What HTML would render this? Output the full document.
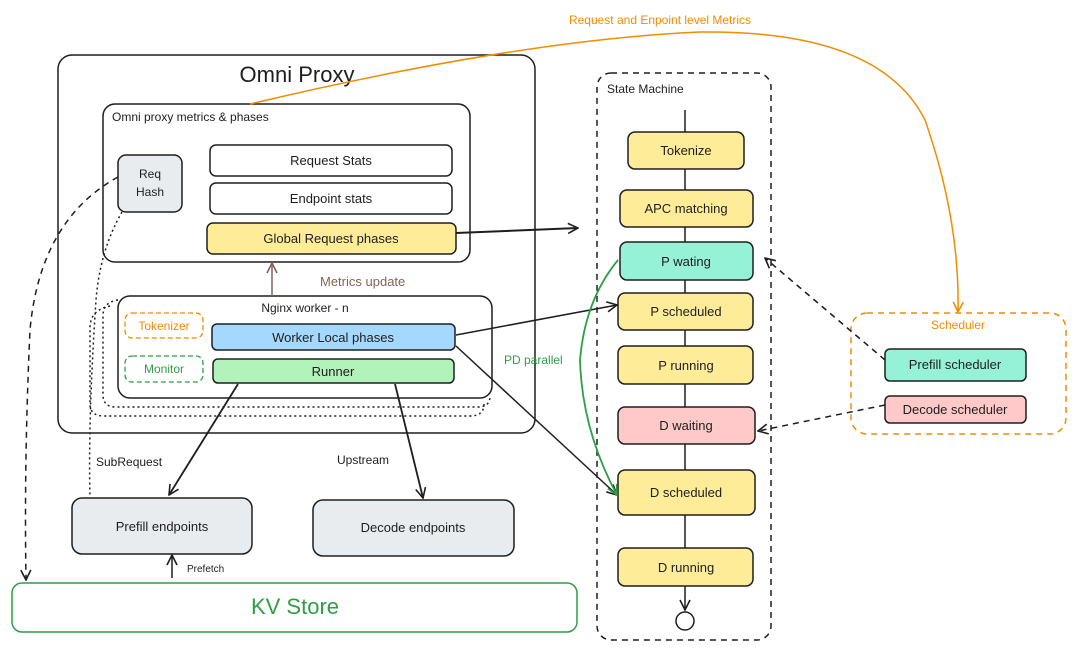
<!DOCTYPE html>
<html><head><meta charset="utf-8"><style>
html,body{margin:0;padding:0;background:#fff;}
svg{display:block;font-family:"Liberation Sans",sans-serif;}
text{fill:#1e1e1e;}
</style></head><body>
<svg width="1080" height="652" viewBox="0 0 1080 652" xmlns="http://www.w3.org/2000/svg">
<defs>
<marker id="ah" viewBox="0 0 12 12" refX="11" refY="6" markerWidth="12" markerHeight="12" orient="auto" markerUnits="userSpaceOnUse"><path d="M1,1 L11,6 L1,11" fill="none" stroke="#1e1e1e" stroke-width="1.6"/></marker>
<marker id="ahg" viewBox="0 0 12 12" refX="11" refY="6" markerWidth="12" markerHeight="12" orient="auto" markerUnits="userSpaceOnUse"><path d="M1,1 L11,6 L1,11" fill="none" stroke="#2f9e44" stroke-width="1.6"/></marker>
<marker id="aho" viewBox="0 0 12 12" refX="11" refY="6" markerWidth="12" markerHeight="12" orient="auto" markerUnits="userSpaceOnUse"><path d="M1,1 L11,6 L1,11" fill="none" stroke="#f08c00" stroke-width="1.6"/></marker>
<marker id="ahb" viewBox="0 0 12 12" refX="11" refY="6" markerWidth="12" markerHeight="12" orient="auto" markerUnits="userSpaceOnUse"><path d="M1,1 L11,6 L1,11" fill="none" stroke="#846358" stroke-width="1.6"/></marker>
</defs>
<g fill="none" stroke="#1e1e1e" stroke-width="1.5">
<!-- Omni Proxy -->
<rect x="58" y="55" width="477" height="378" rx="14"/>
<rect x="103" y="104" width="367" height="158" rx="12"/>
<!-- dotted outlines -->
<path d="M118,300 Q103,302 103,316 L103,395 Q103,407 116,407 L478,407 Q490,407 490,396" stroke-dasharray="2,3"/>
<path d="M110,306 Q90,310 90,328 L90,404 Q90,416 104,416 L470,416 Q484,416 484,404" stroke-dasharray="2,3"/>
<rect x="118" y="296" width="374" height="102" rx="12"/>
</g>
<text x="297" y="82" font-size="22" text-anchor="middle">Omni Proxy</text>
<text x="112" y="121" font-size="12">Omni proxy metrics &amp; phases</text>
<rect x="118" y="155" width="64" height="57" rx="8" fill="#e9ecef" stroke="#1e1e1e" stroke-width="1.5"/>
<text x="150" y="178" font-size="12" text-anchor="middle">Req</text>
<text x="150" y="196" font-size="12" text-anchor="middle">Hash</text>
<rect x="210" y="145" width="242" height="31" rx="6" fill="#fff" stroke="#1e1e1e" stroke-width="1.5"/>
<text x="331" y="165" font-size="13" text-anchor="middle">Request Stats</text>
<rect x="210" y="183" width="242" height="31" rx="6" fill="#fff" stroke="#1e1e1e" stroke-width="1.5"/>
<text x="331" y="203" font-size="13" text-anchor="middle">Endpoint stats</text>
<rect x="207" y="223" width="249" height="31" rx="6" fill="#ffec99" stroke="#1e1e1e" stroke-width="1.5"/>
<text x="331" y="243" font-size="13" text-anchor="middle">Global Request phases</text>
<text x="305" y="312" font-size="12" text-anchor="middle">Nginx worker - n</text>
<rect x="125" y="313" width="78" height="25" rx="7" fill="none" stroke="#f08c00" stroke-width="1.3" stroke-dasharray="5,3"/>
<text x="164" y="330" font-size="12" text-anchor="middle" style="fill:#f08c00">Tokenizer</text>
<rect x="125" y="356" width="78" height="26" rx="7" fill="none" stroke="#2f9e44" stroke-width="1.3" stroke-dasharray="5,3"/>
<text x="164" y="373" font-size="12" text-anchor="middle" style="fill:#2f9e44">Monitor</text>
<rect x="212" y="324" width="243" height="26" rx="5" fill="#a5d8ff" stroke="#1e1e1e" stroke-width="1.5"/>
<text x="333" y="342" font-size="13" text-anchor="middle">Worker Local phases</text>
<rect x="213" y="359" width="241" height="24" rx="5" fill="#b2f2bb" stroke="#1e1e1e" stroke-width="1.5"/>
<text x="333" y="376" font-size="13" text-anchor="middle">Runner</text>
<!-- metrics update -->
<line x1="272" y1="296" x2="272" y2="263" stroke="#846358" stroke-width="1.5" marker-end="url(#ahb)"/>
<text x="320" y="286" font-size="13" style="fill:#846358">Metrics update</text>
<!-- endpoints -->
<rect x="72" y="498" width="180" height="56" rx="10" fill="#e9ecef" stroke="#1e1e1e" stroke-width="1.5"/>
<text x="162" y="531" font-size="13" text-anchor="middle">Prefill endpoints</text>
<rect x="313" y="500" width="201" height="56" rx="10" fill="#e9ecef" stroke="#1e1e1e" stroke-width="1.5"/>
<text x="413" y="532" font-size="13" text-anchor="middle">Decode endpoints</text>
<rect x="12" y="583" width="565" height="49" rx="10" fill="#fff" stroke="#2f9e44" stroke-width="1.5"/>
<text x="295" y="614" font-size="22" text-anchor="middle" style="fill:#2f9e44">KV Store</text>
<text x="96" y="466" font-size="12">SubRequest</text>
<text x="337" y="464" font-size="12">Upstream</text>
<text x="187" y="572" font-size="10">Prefetch</text>
<line x1="172" y1="578" x2="172" y2="555" stroke="#1e1e1e" stroke-width="1.5" marker-end="url(#ah)"/>
<!-- runner arrows -->
<line x1="238" y1="384" x2="169" y2="495" stroke="#1e1e1e" stroke-width="1.8" marker-end="url(#ah)"/>
<line x1="395" y1="384" x2="423" y2="498" stroke="#1e1e1e" stroke-width="1.8" marker-end="url(#ah)"/>
<!-- req hash dashed -->
<path d="M118,177 Q40,220 30,330 Q24,460 26,580" fill="none" stroke="#1e1e1e" stroke-width="1.5" stroke-dasharray="6,5" marker-end="url(#ah)"/>
<path d="M122,212 Q100,250 96,300 Q88,420 90,497" fill="none" stroke="#1e1e1e" stroke-width="1.5" stroke-dasharray="2,3"/>
<!-- state machine -->
<rect x="597" y="73" width="174" height="567" rx="14" fill="none" stroke="#1e1e1e" stroke-width="1.5" stroke-dasharray="6,5"/>
<text x="607" y="93" font-size="12">State Machine</text>
<line x1="685" y1="110" x2="685" y2="610" stroke="#1e1e1e" stroke-width="1.5" marker-end="url(#ah)"/>
<circle cx="685" cy="621" r="9" fill="#fff" stroke="#1e1e1e" stroke-width="1.5"/>
<g stroke="#1e1e1e" stroke-width="1.5" font-size="13" text-anchor="middle">
<rect x="628" y="132" width="116" height="37" rx="7" fill="#ffec99"/>
<rect x="620" y="190" width="133" height="37" rx="7" fill="#ffec99"/>
<rect x="620" y="242" width="133" height="38" rx="7" fill="#96f2d7"/>
<rect x="618" y="293" width="135" height="37" rx="7" fill="#ffec99"/>
<rect x="618" y="346" width="135" height="38" rx="7" fill="#ffec99"/>
<rect x="618" y="407" width="137" height="37" rx="7" fill="#ffc9c9"/>
<rect x="618" y="470" width="137" height="45" rx="7" fill="#ffec99"/>
<rect x="618" y="548" width="135" height="38" rx="7" fill="#ffec99"/>
</g>
<g font-size="13" text-anchor="middle">
<text x="686" y="155">Tokenize</text>
<text x="686" y="213">APC matching</text>
<text x="686" y="266">P wating</text>
<text x="686" y="316">P scheduled</text>
<text x="686" y="370">P running</text>
<text x="686" y="430">D waiting</text>
<text x="686" y="497">D scheduled</text>
<text x="686" y="572">D running</text>
</g>
<!-- arrows into state machine -->
<line x1="456" y1="233" x2="578" y2="228" stroke="#1e1e1e" stroke-width="2" marker-end="url(#ah)"/>
<line x1="456" y1="335" x2="617" y2="305" stroke="#1e1e1e" stroke-width="1.5" marker-end="url(#ah)"/>
<line x1="456" y1="346" x2="617" y2="495" stroke="#1e1e1e" stroke-width="1.5" marker-end="url(#ah)"/>
<path d="M618,260 Q585,300 580,360 Q582,430 617,495" fill="none" stroke="#2f9e44" stroke-width="1.8" marker-end="url(#ahg)"/>
<text x="504" y="364" font-size="12" style="fill:#2f9e44">PD parallel</text>
<!-- scheduler -->
<rect x="851" y="313" width="215" height="121" rx="16" fill="none" stroke="#f08c00" stroke-width="1.5" stroke-dasharray="6,5"/>
<text x="958" y="329" font-size="12" text-anchor="middle" style="fill:#f08c00">Scheduler</text>
<rect x="885" y="349" width="141" height="32" rx="5" fill="#96f2d7" stroke="#1e1e1e" stroke-width="1.5"/>
<text x="955" y="369" font-size="13" text-anchor="middle">Prefill scheduler</text>
<rect x="885" y="396" width="141" height="27" rx="5" fill="#ffc9c9" stroke="#1e1e1e" stroke-width="1.5"/>
<text x="955" y="414" font-size="13" text-anchor="middle">Decode scheduler</text>
<line x1="885" y1="360" x2="765" y2="258" stroke="#1e1e1e" stroke-width="1.5" stroke-dasharray="6,5" marker-end="url(#ah)"/>
<line x1="885" y1="405" x2="758" y2="431" stroke="#1e1e1e" stroke-width="1.5" stroke-dasharray="6,5" marker-end="url(#ah)"/>
<!-- orange metrics curve -->
<path d="M250,104 Q520,40 700,32 Q880,30 925,120 Q960,220 958,312" fill="none" stroke="#f08c00" stroke-width="1.5" marker-end="url(#aho)"/>
<text x="660" y="24" font-size="12" text-anchor="middle" style="fill:#f08c00">Request and Enpoint level Metrics</text>
</svg>
</body></html>
